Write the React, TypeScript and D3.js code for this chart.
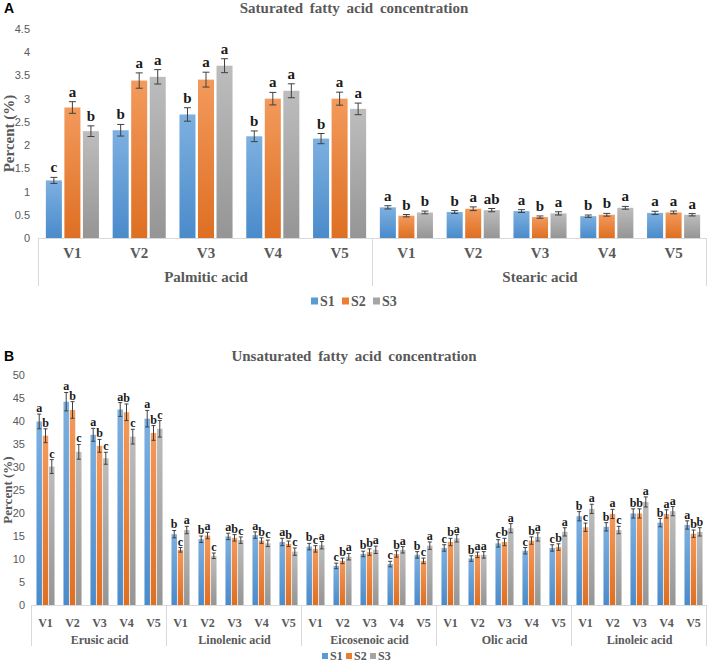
import React from 'react'
import * as d3 from 'd3'

const varieties = ['V1', 'V2', 'V3', 'V4', 'V5']
const seriesNames = ['S1', 'S2', 'S3']
const colors = ['#5B9BD5', '#ED7D31', '#A5A5A5']
const lightColors = ['#7DB0E0', '#F39A5C', '#BDBDBD']
const darkColors = ['#4A8BCB', '#DE6F22', '#959595']

// A: saturated fatty acids (Palmitic V1..V5, Stearic V1..V5)
const satAcids = ['Palmitic acid', 'Stearic acid']
const satS1 = [1.24, 2.32, 2.66, 2.19, 2.14, 0.66, 0.56, 0.58, 0.47, 0.54]
const satS2 = [2.81, 3.39, 3.41, 3.0, 3.0, 0.48, 0.63, 0.45, 0.5, 0.55]
const satS3 = [2.3, 3.47, 3.71, 3.17, 2.78, 0.55, 0.6, 0.53, 0.65, 0.5]
const satE1 = [0.065, 0.125, 0.145, 0.115, 0.11, 0.035, 0.03, 0.03, 0.025, 0.035]
const satE2 = [0.125, 0.165, 0.16, 0.135, 0.14, 0.025, 0.04, 0.025, 0.03, 0.03]
const satE3 = [0.115, 0.155, 0.15, 0.15, 0.125, 0.03, 0.035, 0.035, 0.03, 0.025]
const satL1 = ['c', 'b', 'b', 'b', 'b', 'a', 'b', 'a', 'b', 'a']
const satL2 = ['a', 'a', 'a', 'a', 'a', 'b', 'a', 'b', 'b', 'a']
const satL3 = ['b', 'a', 'a', 'a', 'a', 'b', 'ab', 'a', 'a', 'a']
const satTicks = [0, 0.5, 1, 1.5, 2, 2.5, 3, 3.5, 4, 4.5]

// B: unsaturated fatty acids (5 acids x V1..V5)
const unsatAcids = ['Erusic acid', 'Linolenic acid', 'Eicosenoic acid', 'Olic acid', 'Linoleic acid']
const unsatS1 = [39.9, 44.2, 37.0, 42.5, 40.5, 15.4, 14.3, 14.9, 15.2, 13.7, 12.7, 8.5, 11.1, 8.9, 10.9, 12.4, 10.1, 13.4, 11.8, 12.4, 19.3, 17.0, 19.9, 17.9, 17.4]
const unsatS2 = [36.8, 42.4, 34.6, 41.9, 37.4, 12.0, 15.1, 14.6, 14.0, 13.3, 12.2, 9.6, 11.5, 11.1, 9.6, 13.7, 10.9, 13.7, 14.0, 12.6, 16.9, 19.8, 19.9, 19.8, 15.5]
const unsatS3 = [30.1, 33.3, 31.9, 36.6, 38.3, 16.3, 10.7, 14.1, 13.4, 11.6, 13.0, 10.5, 12.0, 12.0, 12.9, 14.5, 10.9, 16.7, 14.8, 15.9, 20.9, 16.3, 22.4, 20.4, 15.9]
const unsatE1 = [1.6, 2.0, 1.4, 1.5, 1.8, 0.8, 0.7, 0.7, 0.7, 0.8, 0.7, 0.6, 0.6, 0.6, 0.7, 0.7, 0.6, 0.8, 0.7, 0.7, 1.0, 0.9, 1.0, 0.9, 0.9]
const unsatE2 = [1.5, 1.8, 1.4, 1.8, 1.6, 0.5, 0.7, 0.7, 0.6, 0.6, 0.7, 0.6, 0.7, 0.7, 0.6, 0.8, 0.6, 0.8, 0.8, 0.7, 0.9, 1.0, 1.0, 0.9, 0.8]
const unsatE3 = [1.5, 1.6, 1.3, 1.6, 1.8, 0.8, 0.6, 0.7, 0.7, 0.8, 0.8, 0.7, 0.8, 0.7, 0.8, 0.8, 0.7, 1.0, 0.9, 0.9, 1.0, 0.8, 1.1, 1.0, 0.9]
const unsatL1 = ['a', 'a', 'a', 'a', 'a', 'b', 'b', 'a', 'a', 'a', 'b', 'c', 'b', 'c', 'b', 'c', 'b', 'c', 'c', 'c', 'b', 'b', 'b', 'b', 'a']
const unsatL2 = ['b', 'b', 'b', 'b', 'b', 'c', 'a', 'b', 'b', 'b', 'c', 'b', 'b', 'b', 'c', 'b', 'a', 'b', 'b', 'b', 'c', 'a', 'b', 'a', 'b']
const unsatL3 = ['c', 'c', 'c', 'c', 'c', 'a', 'c', 'c', 'c', 'c', 'a', 'a', 'a', 'a', 'a', 'a', 'a', 'a', 'a', 'a', 'a', 'c', 'a', 'a', 'b']
const unsatTicks = [0, 5, 10, 15, 20, 25, 30, 35, 40, 45, 50]

const serif = '"Liberation Serif", "Times New Roman", serif'
const sans = '"Liberation Sans", Arial, sans-serif'
const grey = '#595959'
const lineGrey = '#D9D9D9'

function Panel(p) {
  const { acids, vals, errs, lets, ticks, yMax, left, right, top, base, tickX, fs, letterFs, capW, padIn, padOut } = p
  const cats = d3.range(acids.length * varieties.length)
  const x = d3.scaleBand().domain(cats).range([left, right])
  const inner = d3.scaleBand().domain([0, 1, 2]).range([0, x.bandwidth()]).paddingInner(padIn).paddingOuter(padOut)
  const y = d3.scaleLinear().domain([0, yMax]).range([base, top])
  const groupW = x.step() * varieties.length

  return (
    <g>
      <text x={p.labelX} y={p.titleY} fontFamily={sans} fontWeight="bold" fontSize={14} fill="#000" dominantBaseline="central">{p.tag}</text>
      <text x={354} y={p.titleY} textAnchor="middle" dominantBaseline="central" fontFamily={serif} fontWeight="bold" fontSize={p.titleFs} fill={grey} style={{ wordSpacing: '3px' }}>{p.title}</text>
      <text transform={`translate(${p.yLabelX},${(top + base) / 2}) rotate(-90)`} textAnchor="middle" dominantBaseline="central" fontFamily={serif} fontWeight="bold" fontSize={p.yLabelFs} fill={grey}>Percent (%)</text>
      {ticks.map(t => (
        <text key={t} x={tickX} y={y(t)} textAnchor="end" dominantBaseline="central" fontFamily={sans} fontSize={11} fill={grey}>{String(t)}</text>
      ))}
      {cats.map(c => vals.map((v, s) => {
        const bx = x(c) + inner(s)
        const val = v[c]
        const e = errs[s][c]
        const cx = bx + inner.bandwidth() / 2
        return (
          <g key={`${c}-${s}`}>
            <rect x={bx} y={y(val)} width={inner.bandwidth()} height={base - y(val)} fill={`url(#grad${s})`} />
            <line x1={cx} x2={cx} y1={y(val + e)} y2={y(val - e)} stroke="#404040" strokeWidth={1} />
            <line x1={cx - capW / 2} x2={cx + capW / 2} y1={y(val + e)} y2={y(val + e)} stroke="#404040" strokeWidth={1} />
            <line x1={cx - capW / 2} x2={cx + capW / 2} y1={y(val - e)} y2={y(val - e)} stroke="#404040" strokeWidth={1} />
            <text x={cx} y={y(val + e) - p.letterGap} textAnchor="middle" fontFamily={serif} fontWeight="bold" fontSize={letterFs} fill="#1a1a1a">{lets[s][c]}</text>
          </g>
        )
      }))}
      <line x1={left} x2={right} y1={base + 0.5} y2={base + 0.5} stroke={lineGrey} strokeWidth={1} />
      {d3.range(acids.length + 1).map(i => {
        const lx = Math.round(left + i * groupW) - 0.5
        return <line key={i} x1={lx} x2={lx} y1={base} y2={p.boxBottom} stroke={lineGrey} strokeWidth={1} />
      })}
      {cats.map(c => (
        <text key={c} x={x(c) + x.bandwidth() / 2} y={p.vY} textAnchor="middle" dominantBaseline="central" fontFamily={serif} fontWeight="bold" fontSize={fs} fill={grey}>{varieties[c % varieties.length]}</text>
      ))}
      {acids.map((a, i) => (
        <text key={a} x={left + (i + 0.5) * groupW} y={p.groupY} textAnchor="middle" dominantBaseline="central" fontFamily={serif} fontWeight="bold" fontSize={fs} fill={grey}>{a}</text>
      ))}
      <g transform={`translate(${p.legendX},${p.legendY})`}>
        {seriesNames.map((n, i) => (
          <g key={n} transform={`translate(${i * p.legendStep},0)`}>
            <rect x={0} y={-p.sq / 2} width={p.sq} height={p.sq} fill={colors[i]} />
            <text x={p.sq + 2} y={0} dominantBaseline="central" fontFamily={serif} fontWeight="bold" fontSize={p.legendFs} fill={grey}>{n}</text>
          </g>
        ))}
      </g>
    </g>
  )
}

export default function App() {
  return (
    <svg width={708} height={663} style={{ position: 'absolute', left: 0, top: 0, background: '#fff' }}>
      <defs>
        {colors.map((c, i) => (
          <linearGradient key={c} id={`grad${i}`} x1="0" y1="0" x2="0" y2="1">
            <stop offset="0" stopColor={lightColors[i]} />
            <stop offset="1" stopColor={darkColors[i]} />
          </linearGradient>
        ))}
      </defs>
      <Panel
        tag="A" title="Saturated fatty acid concentration" titleY={8} titleFs={15} labelX={4}
        acids={satAcids} vals={[satS1, satS2, satS3]} errs={[satE1, satE2, satE3]} lets={[satL1, satL2, satL3]}
        ticks={satTicks} yMax={4.5} left={39} right={707} top={29} base={238} tickX={30}
        fs={15} letterFs={15} letterGap={5} capW={7} padIn={0.135} padOut={0.37}
        yLabelX={9} yLabelFs={15} vY={253} groupY={277} boxBottom={286}
        legendX={311} legendY={301} legendStep={31} sq={7} legendFs={14}
      />
      <Panel
        tag="B" title="Unsaturated fatty acid concentration" titleY={356} titleFs={15} labelX={4}
        acids={unsatAcids} vals={[unsatS1, unsatS2, unsatS3]} errs={[unsatE1, unsatE2, unsatE3]} lets={[unsatL1, unsatL2, unsatL3]}
        ticks={unsatTicks} yMax={50} left={32} right={707} top={375} base={605} tickX={25}
        fs={12} letterFs={12} letterGap={2} capW={4} padIn={0.127} padOut={0.71}
        yLabelX={7} yLabelFs={13} vY={623} groupY={640} boxBottom={646}
        legendX={322} legendY={656} legendStep={24} sq={6} legendFs={12}
      />
    </svg>
  )
}
